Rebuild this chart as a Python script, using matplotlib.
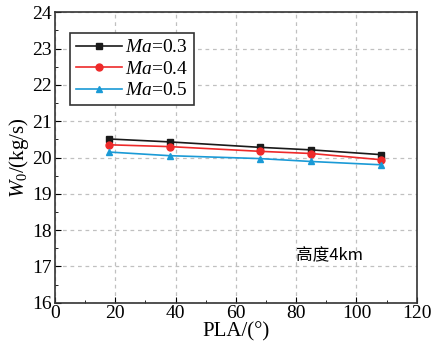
import matplotlib.pyplot as plt
from matplotlib.ticker import MultipleLocator

pla = [18, 38, 68, 85, 108]
w_03 = [20.51, 20.43, 20.28, 20.21, 20.08]
w_04 = [20.35, 20.30, 20.17, 20.11, 19.94]
w_05 = [20.15, 20.05, 19.97, 19.89, 19.80]

plt.rcParams['font.family'] = ['Liberation Serif', 'Noto Sans CJK SC']
plt.rcParams['mathtext.fontset'] = 'custom'
plt.rcParams['mathtext.rm'] = 'Liberation Serif'
plt.rcParams['mathtext.it'] = 'Liberation Serif:italic'

fig = plt.figure(figsize=(4.33, 3.44), dpi=100)
ax = fig.add_axes([55/433, 1-302.7/344, (416.7-55)/433, (302.7-12.3)/344])

ax.plot(pla, w_03, color='#1a1a1a', marker='s', markersize=5, lw=1.2, label='$Ma$=0.3', zorder=3)
ax.plot(pla, w_04, color='#ee2a2a', marker='o', markersize=5, lw=1.2, label='$Ma$=0.4', zorder=3)
ax.plot(pla, w_05, color='#1a9ad6', marker='^', markersize=5, lw=1.2, label='$Ma$=0.5', zorder=3)

ax.set_xlim(0, 120)
ax.set_ylim(16, 24)
ax.xaxis.set_major_locator(MultipleLocator(20))
ax.xaxis.set_minor_locator(MultipleLocator(10))
ax.yaxis.set_major_locator(MultipleLocator(1))
ax.yaxis.set_minor_locator(MultipleLocator(0.5))
ax.tick_params(which='both', direction='in', top=False, right=False, labelsize=14)
ax.tick_params(which='major', length=4, pad=2)
ax.tick_params(which='minor', length=2.5)
ax.grid(which='major', linestyle=(0, (3, 3)), color='#c0c0c0', linewidth=0.9)
for s in ax.spines.values():
    s.set_linewidth(1.2)
    s.set_color('#333333')

ax.set_xlabel('PLA/(°)', fontsize=15, labelpad=0)
ax.set_ylabel('$W_0$/(kg/s)', fontsize=15, labelpad=1)
ax.text(0.665, 0.145, '高度4km', transform=ax.transAxes, fontsize=12,
        family=['Noto Sans CJK SC', 'Liberation Serif'])

leg = ax.legend(loc='upper left', bbox_to_anchor=(0.041, 0.929), borderaxespad=0,
                fontsize=14, handlelength=2.4, borderpad=0.3, labelspacing=0.2,
                handletextpad=0.15, fancybox=False, framealpha=1)
leg.get_frame().set_edgecolor('#333333')
leg.get_frame().set_linewidth(1.2)

fig.savefig('out.png', dpi=100)
